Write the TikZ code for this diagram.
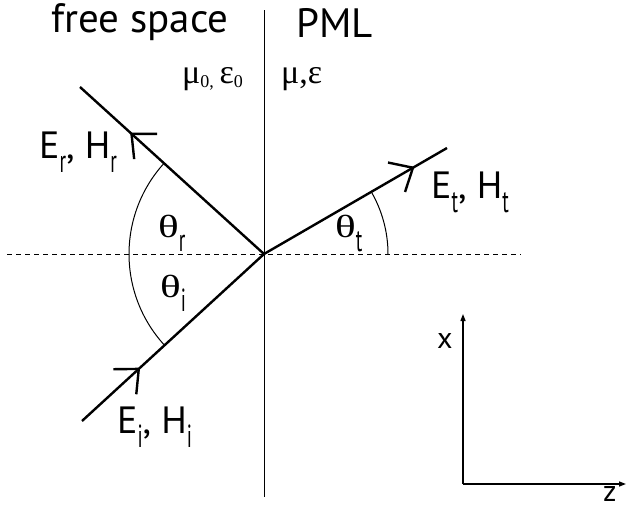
\documentclass[tikz,border=0pt]{standalone}
\usepackage{fontspec}
\setmainfont{PT Sans}
\newfontfamily\grk{Liberation Serif}
\usetikzlibrary{decorations.markings,arrows.meta}
\newcommand{\sbs}[1]{\raisebox{-14pt}{\scalebox{0.6}[1]{\fontsize{32}{32}\selectfont #1}}}
\newcommand{\gsb}[1]{\raisebox{-4pt}{\fontsize{18}{18}\selectfont\grk #1}}
\newcommand{\wth}{\scalebox{1.35}[1]{θ}}
\begin{document}
\begin{tikzpicture}[x=1pt,y=-1pt,
  ray/.style={line width=2.4pt},
  thin/.style={line width=1pt},
  lbl/.style={anchor=base west,inner sep=0pt,font=\fontsize{38}{38}\selectfont},
  glbl/.style={anchor=base west,inner sep=0pt,font=\fontsize{32}{32}\selectfont\grk},
  chev/.style={postaction={decorate},decoration={markings,mark=at position #1 with {\draw[line width=2.4pt] (-19,-17) -- (0,0) -- (-19,17);}}}
]
\useasboundingbox (0,0) rectangle (627,509);
\coordinate (O) at (264,254);
\coordinate (R) at (80,87);
\coordinate (T) at (447,148);
\coordinate (I) at (82,421);
\coordinate (VT) at (264,10);
\coordinate (VB) at (264,497);
\coordinate (HL) at (7,254);
\coordinate (HR) at (521,254);
\coordinate (A) at (463,484);
\coordinate (AX) at (463,314);
\coordinate (AZ) at (626,484);
% interface and normal
\draw[thin] (VT) -- (VB);
\draw[thin,dash pattern=on 5pt off 4pt] (HL) -- (HR);
% rays
\draw[ray,chev=0.72] (O) -- (R);
\draw[ray,chev=0.814] (O) -- (T);
\draw[ray,chev=0.312] (I) -- (O);
% angle arcs
\draw[thin] (O) ++(137.5:135) arc[start angle=137.5,end angle=222.2,radius=135];
\draw[thin] (O) ++(0:124) arc[start angle=0,end angle=-30.1,radius=124];
% axes
\draw[line width=1.3pt,-{Triangle[length=7pt,width=5pt]}] (A) -- (AX);
\draw[line width=1.3pt,-{Triangle[length=7pt,width=5pt]}] (A) -- (AZ);
% labels
\node[lbl,font=\fontsize{41}{41}\selectfont] (fs) at (51,32) {free space};
\node[lbl,font=\fontsize{41}{41}\selectfont] (pml) at (296,37) {PML};
\node[glbl,font=\fontsize{34}{34}\selectfont\grk] (m0) at (182,83) {μ\gsb{0,}\,ε\gsb{0}};
\node[glbl,font=\fontsize{34}{34}\selectfont\grk] (m1) at (281,83) {μ,ε};
\node[lbl] (er) at (39,158) {E\sbs{r}, H\sbs{r}};
\node[lbl] (et) at (431,198) {E\sbs{t}, H\sbs{t}};
\node[lbl] (ei) at (117,433) {E\sbs{i}, H\sbs{i}};
\node[glbl] (tr) at (158,237) {\wth\sbs{\rmfamily r}};
\node[glbl] (tt) at (335,237) {\wth\sbs{\rmfamily t}};
\node[glbl] (ti) at (160,297) {\wth\sbs{\rmfamily i}};
\node[lbl,font=\fontsize{30}{30}\selectfont] (xl) at (437,348) {x};
\node[lbl,font=\fontsize{30}{30}\selectfont] (zl) at (603,501) {z};
\end{tikzpicture}
\end{document}
